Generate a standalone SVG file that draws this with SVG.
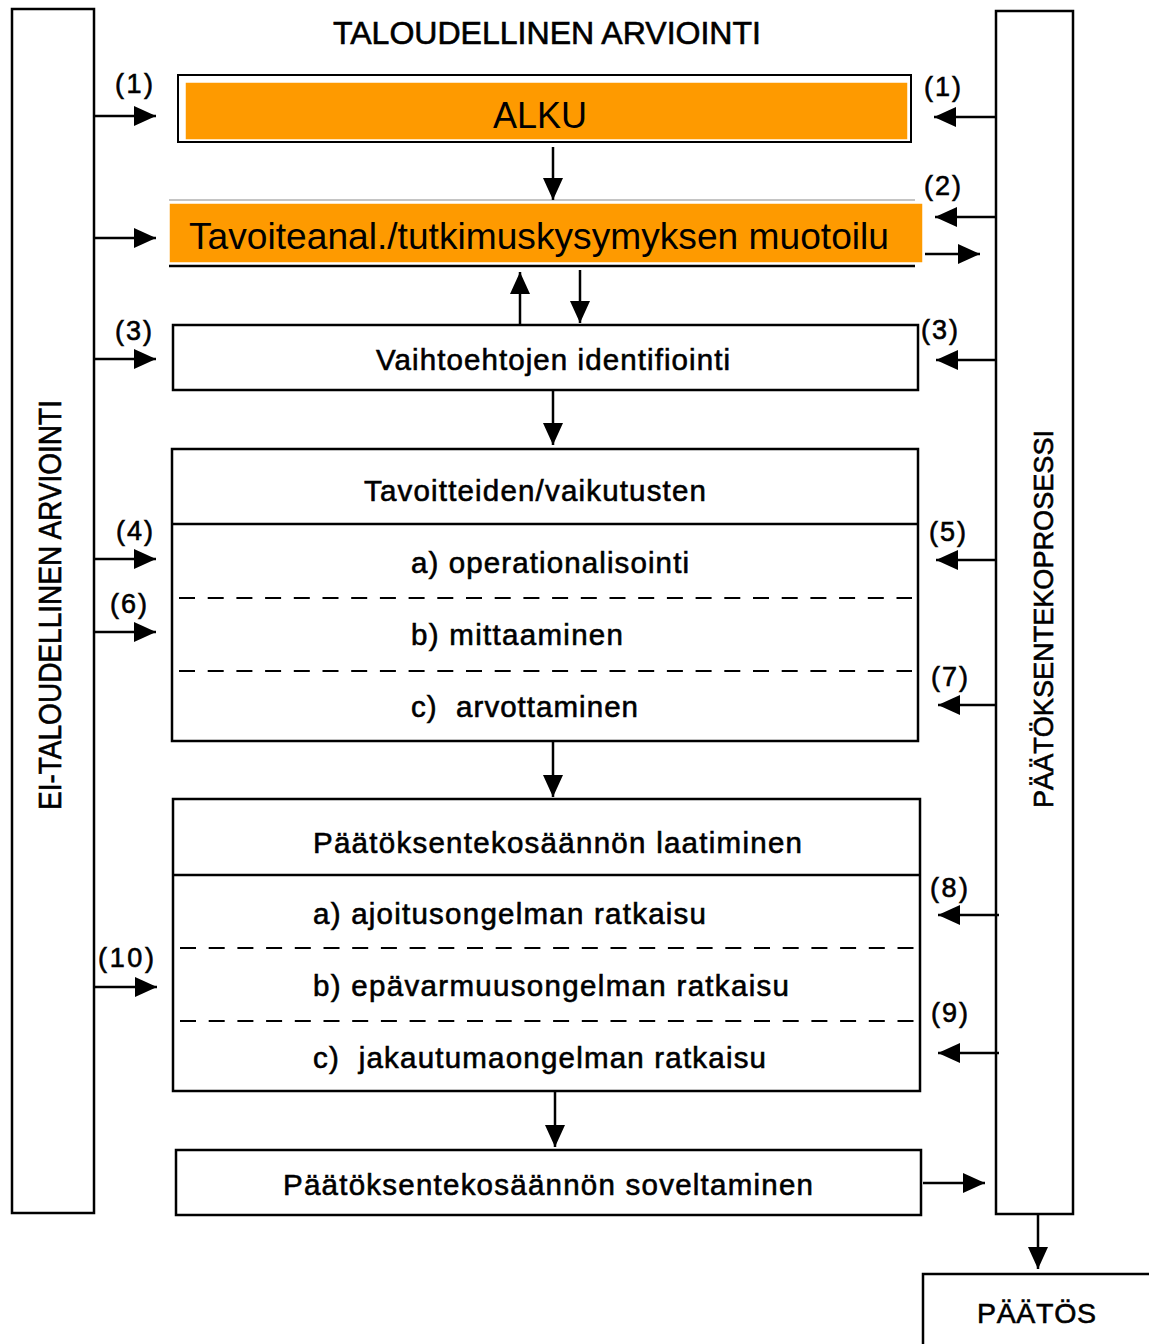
<svg xmlns="http://www.w3.org/2000/svg" width="1149" height="1344" viewBox="0 0 1149 1344">
  <style>
    .box { fill: #ffffff; stroke: #000000; stroke-width: 2.5; }
    .rule { stroke: #000000; stroke-width: 2.5; fill: none; }
    .dash { stroke: #000000; stroke-width: 2; stroke-dasharray: 16 12.7; fill: none; }
    .conn { stroke: #000000; stroke-width: 2.5; fill: none; marker-end: url(#arrow); }
    .t { font-family: "Liberation Sans", Arial, Helvetica, sans-serif; fill: #000000; }
    .ink { stroke: #000000; stroke-width: 0.6; }
    .body { font-size: 29.5px; white-space: pre; }
    .lbl { font-size: 27px; }
    .orange { fill: #FE9A00; stroke: #ffffff; stroke-width: 1.5; }
  </style>
  <defs>
    <marker id="arrow" viewBox="0 0 22 20" refX="22" refY="10" markerWidth="22" markerHeight="20" markerUnits="userSpaceOnUse" orient="auto">
      <path d="M0,0 L22,10 L0,20 z" fill="#000000"/>
    </marker>
  </defs>
  <rect width="1149" height="1344" fill="#ffffff"/>

  <!-- heading -->
  <text class="t ink" x="333" y="44" font-size="31" textLength="428" lengthAdjust="spacingAndGlyphs">TALOUDELLINEN ARVIOINTI</text>

  <!-- left side column: non-economic appraisal -->
  <g id="ei-taloudellinen">
    <rect class="box" x="12" y="9" width="82" height="1204"/>
    <text class="t ink" transform="translate(61,605) rotate(-90)" text-anchor="middle" font-size="32" textLength="410" lengthAdjust="spacingAndGlyphs">EI-TALOUDELLINEN ARVIOINTI</text>
  </g>

  <!-- right side column: decision process -->
  <g id="paatoksentekoprosessi">
    <rect class="box" x="996" y="11" width="77" height="1203"/>
    <text class="t ink" transform="translate(1053,619) rotate(-90)" text-anchor="middle" font-size="27" textLength="378" lengthAdjust="spacingAndGlyphs">PÄÄTÖKSENTEKOPROSESSI</text>
  </g>

  <!-- start -->
  <g id="alku">
    <rect x="178" y="75" width="733" height="67" fill="none" stroke="#000000" stroke-width="2"/>
    <rect class="orange" x="185" y="82" width="723" height="58"/>
    <text class="t" x="540" y="128" font-size="36" text-anchor="middle">ALKU</text>
  </g>

  <!-- objective analysis / research question -->
  <g id="tavoiteanalyysi">
    <line x1="169" y1="200" x2="915" y2="200" stroke="#8a8a8a" stroke-width="1.2"/>
    <rect class="orange" x="169" y="203" width="754" height="60"/>
    <line x1="169" y1="266" x2="915" y2="266" stroke="#000000" stroke-width="2.5"/>
    <text class="t" x="189" y="249" font-size="36.5" textLength="700" lengthAdjust="spacingAndGlyphs">Tavoiteanal./tutkimuskysymyksen muotoilu</text>
  </g>

  <!-- alternatives -->
  <g id="vaihtoehdot">
    <rect class="box" x="173" y="325" width="745" height="65"/>
    <text class="t ink body" x="376" y="370" textLength="354" lengthAdjust="spacing">Vaihtoehtojen identifiointi</text>
  </g>

  <!-- objectives / impacts -->
  <g id="tavoitteet">
    <rect class="box" x="172" y="449" width="746" height="292"/>
    <line class="rule" x1="172" y1="524" x2="918" y2="524"/>
    <line class="dash" x1="179" y1="598" x2="912" y2="598"/>
    <line class="dash" x1="179" y1="671" x2="912" y2="671"/>
    <text class="t ink body" x="364" y="501" textLength="342" lengthAdjust="spacing">Tavoitteiden/vaikutusten</text>
    <text class="t ink body" x="411" y="573" textLength="278" lengthAdjust="spacing">a) operationalisointi</text>
    <text class="t ink body" x="411" y="645" textLength="212" lengthAdjust="spacing">b) mittaaminen</text>
    <text class="t ink body" x="411" y="717" textLength="227" lengthAdjust="spacing">c)  arvottaminen</text>
  </g>

  <!-- decision rule construction -->
  <g id="saanto-laatiminen">
    <rect class="box" x="173" y="799" width="747" height="292"/>
    <line class="rule" x1="173" y1="875" x2="920" y2="875"/>
    <line class="dash" x1="180" y1="948" x2="914" y2="948"/>
    <line class="dash" x1="180" y1="1021" x2="914" y2="1021"/>
    <text class="t ink body" x="313" y="853" textLength="489" lengthAdjust="spacing">Päätöksentekosäännön laatiminen</text>
    <text class="t ink body" x="313" y="924" textLength="393" lengthAdjust="spacing">a) ajoitusongelman ratkaisu</text>
    <text class="t ink body" x="313" y="996" textLength="476" lengthAdjust="spacing">b) epävarmuusongelman ratkaisu</text>
    <text class="t ink body" x="313" y="1068" textLength="453" lengthAdjust="spacing">c)  jakautumaongelman ratkaisu</text>
  </g>

  <!-- decision rule application -->
  <g id="saanto-soveltaminen">
    <rect class="box" x="176" y="1150" width="745" height="65"/>
    <text class="t ink body" x="283" y="1195" textLength="530" lengthAdjust="spacing">Päätöksentekosäännön soveltaminen</text>
  </g>

  <!-- decision -->
  <g id="paatos">
    <path class="rule" d="M923,1346 V1274 H1151"/>
    <text class="t ink" x="977" y="1323" font-size="28.5" textLength="119" lengthAdjust="spacing">PÄÄTÖS</text>
  </g>

  <!-- connectors -->
  <g id="connectors">
    <!-- main flow -->
    <line class="conn" x1="553" y1="147" x2="553" y2="200"/>
    <line class="conn" x1="520" y1="325" x2="520" y2="272"/>
    <line class="conn" x1="580" y1="270" x2="580" y2="323"/>
    <line class="conn" x1="553" y1="391" x2="553" y2="445"/>
    <line class="conn" x1="553" y1="742" x2="553" y2="797"/>
    <line class="conn" x1="555" y1="1092" x2="555" y2="1147"/>
    <!-- from the left column -->
    <line class="conn" x1="94" y1="116" x2="156" y2="116"/>
    <line class="conn" x1="94" y1="238" x2="156" y2="238"/>
    <line class="conn" x1="94" y1="359" x2="156" y2="359"/>
    <line class="conn" x1="94" y1="559" x2="156" y2="559"/>
    <line class="conn" x1="94" y1="632" x2="156" y2="632"/>
    <line class="conn" x1="94" y1="987" x2="157" y2="987"/>
    <!-- from the right column -->
    <line class="conn" x1="996" y1="117" x2="934" y2="117"/>
    <line class="conn" x1="996" y1="217" x2="935" y2="217"/>
    <line class="conn" x1="996" y1="360" x2="936" y2="360"/>
    <line class="conn" x1="996" y1="560" x2="936" y2="560"/>
    <line class="conn" x1="996" y1="705" x2="938" y2="705"/>
    <line class="conn" x1="999" y1="915" x2="938" y2="915"/>
    <line class="conn" x1="999" y1="1053" x2="938" y2="1053"/>
    <!-- into the right column -->
    <line class="conn" x1="925" y1="254" x2="980" y2="254"/>
    <line class="conn" x1="923" y1="1183" x2="985" y2="1183"/>
    <!-- to the decision -->
    <line class="conn" x1="1038" y1="1214" x2="1038" y2="1269"/>
  </g>

  <!-- link labels -->
  <g id="labels" class="t ink lbl">
    <text x="115" y="93" textLength="38" lengthAdjust="spacing">(1)</text>
    <text x="924" y="96" textLength="37" lengthAdjust="spacing">(1)</text>
    <text x="924" y="195" textLength="37" lengthAdjust="spacing">(2)</text>
    <text x="115" y="340" textLength="37" lengthAdjust="spacing">(3)</text>
    <text x="921" y="339" textLength="37" lengthAdjust="spacing">(3)</text>
    <text x="116" y="540" textLength="37" lengthAdjust="spacing">(4)</text>
    <text x="929" y="541" textLength="37" lengthAdjust="spacing">(5)</text>
    <text x="110" y="613" textLength="37" lengthAdjust="spacing">(6)</text>
    <text x="931" y="686" textLength="37" lengthAdjust="spacing">(7)</text>
    <text x="930" y="897" textLength="38" lengthAdjust="spacing">(8)</text>
    <text x="931" y="1022" textLength="37" lengthAdjust="spacing">(9)</text>
    <text x="98" y="967" textLength="56" lengthAdjust="spacing">(10)</text>
  </g>
</svg>
